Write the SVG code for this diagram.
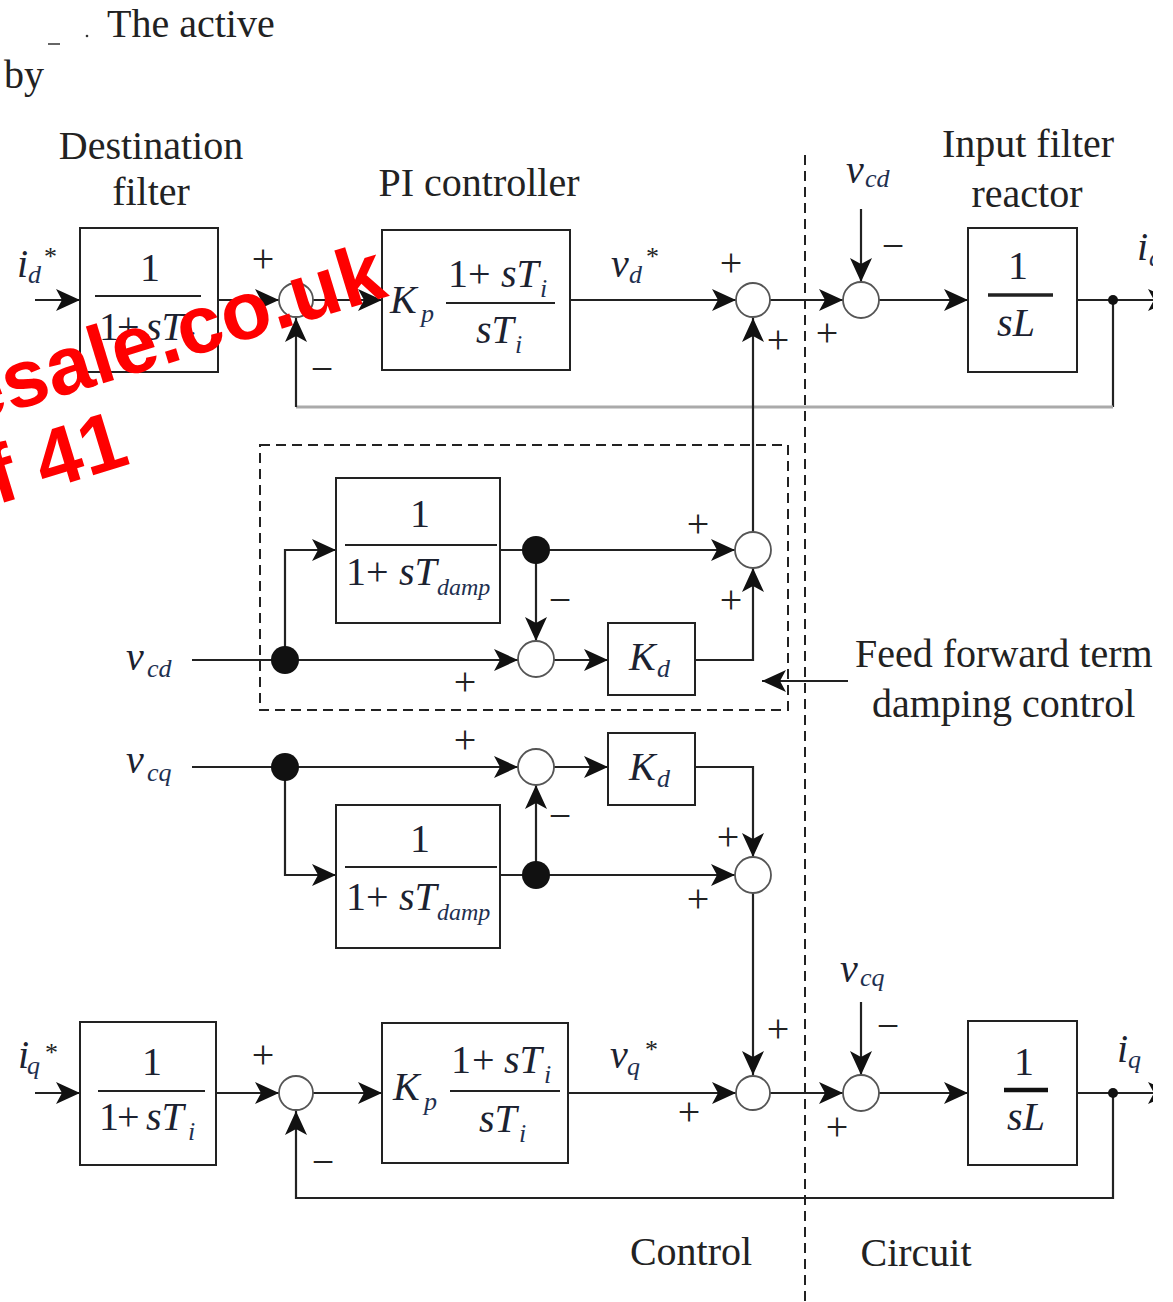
<svg xmlns="http://www.w3.org/2000/svg" width="1173" height="1302" viewBox="0 0 1173 1302">
<style>
.lbl{font-family:"Liberation Serif","Times New Roman",serif;font-size:40px;fill:#222}
.m{font-family:"Liberation Serif","Times New Roman",serif;font-size:40px;fill:#1c2230}
.i{font-style:italic}
.sub{font-family:"Liberation Serif","Times New Roman",serif;font-size:26px;font-style:italic;fill:#1e3050}
.dsub{font-family:"Liberation Serif","Times New Roman",serif;font-size:24px;font-style:italic;fill:#1e3050}
.star{font-family:"Liberation Serif","Times New Roman",serif;font-size:26px;fill:#222}
.sg{font-family:"Liberation Serif","Times New Roman",serif;font-size:40px;fill:#222;text-anchor:middle}
.box{fill:none;stroke:#222;stroke-width:2}
.frac{stroke:#222;stroke-width:2}
.sum{fill:#fff;stroke:#555;stroke-width:1.8}
.dot{fill:#111}
.ln{fill:none;stroke:#222;stroke-width:2.2}
.grey{fill:none;stroke:#aaa;stroke-width:3}
.dash{fill:none;stroke:#222;stroke-width:2;stroke-dasharray:10,6}
.wm{font-family:"Liberation Sans",Arial,sans-serif;font-weight:bold;font-size:82px;fill:#ff0000}
</style>
<defs>
<marker id="ah" markerWidth="24" markerHeight="22" refX="24" refY="11" orient="auto" markerUnits="userSpaceOnUse">
<path d="M0,0 L24,11 L0,22 L6,11 z" fill="#111"/>
</marker>
<clipPath id="cp"><rect x="0" y="0" width="1153" height="1302"/></clipPath>
</defs>
<rect width="1173" height="1302" fill="#fff"/>

<g clip-path="url(#cp)">
<g id="header">
<text class="lbl" x="107" y="37">The active</text>
<text class="lbl" x="4" y="88">by</text>
<line x1="48" y1="44" x2="60" y2="44" stroke="#333" stroke-width="1.5"/>
<circle cx="87" cy="36" r="1.3" fill="#333"/>
</g>

<g id="titles">
<text class="lbl" x="151" y="159" text-anchor="middle">Destination</text>
<text class="lbl" x="151" y="205" text-anchor="middle">filter</text>
<text class="lbl" x="479" y="196" text-anchor="middle">PI controller</text>
<text class="lbl" x="1028" y="157" text-anchor="middle">Input filter</text>
<text class="lbl" x="1027" y="207" text-anchor="middle">reactor</text>
<text class="lbl" x="855" y="667">Feed forward term</text>
<text class="lbl" x="872" y="717">damping control</text>
<text class="lbl" x="691" y="1265" text-anchor="middle">Control</text>
<text class="lbl" x="916" y="1266" text-anchor="middle">Circuit</text>
</g>

<g id="boundaries">
<path class="dash" d="M805,155 V1302"/>
<rect class="dash" x="260" y="445" width="528" height="265"/>
</g>

<g id="connectors">
<path class="ln" d="M35,300 H80" marker-end="url(#ah)"/>
<path class="ln" d="M218,300 H279" marker-end="url(#ah)"/>
<path class="ln" d="M313,300 H382" marker-end="url(#ah)"/>
<path class="ln" d="M570,300 H736" marker-end="url(#ah)"/>
<path class="ln" d="M770,300 H843" marker-end="url(#ah)"/>
<path class="ln" d="M879,300 H968" marker-end="url(#ah)"/>
<path class="ln" d="M1077,300 H1172" marker-end="url(#ah)"/>
<path class="ln" d="M861,209 V282" marker-end="url(#ah)"/>
<path class="ln" d="M1113,300 V407"/>
<path class="grey" d="M1113,407 H296"/>
<path class="ln" d="M296,407 V318" marker-end="url(#ah)"/>
<path class="ln" d="M753,532 V318" marker-end="url(#ah)"/>

<path class="ln" d="M192,660 H518" marker-end="url(#ah)"/>
<path class="ln" d="M285,660 V550 H336" marker-end="url(#ah)"/>
<path class="ln" d="M500,550 H735" marker-end="url(#ah)"/>
<path class="ln" d="M536,550 V641" marker-end="url(#ah)"/>
<path class="ln" d="M554,660 H608" marker-end="url(#ah)"/>
<path class="ln" d="M695,660 H753 V568" marker-end="url(#ah)"/>
<path class="ln" d="M848,681 H762" marker-end="url(#ah)" stroke-width="3"/>

<path class="ln" d="M192,767 H518" marker-end="url(#ah)"/>
<path class="ln" d="M285,767 V875 H336" marker-end="url(#ah)"/>
<path class="ln" d="M500,875 H735" marker-end="url(#ah)"/>
<path class="ln" d="M536,875 V785" marker-end="url(#ah)"/>
<path class="ln" d="M554,767 H608" marker-end="url(#ah)"/>
<path class="ln" d="M695,767 H753 V857" marker-end="url(#ah)"/>
<path class="ln" d="M753,893 V1075" marker-end="url(#ah)"/>

<path class="ln" d="M35,1093 H80" marker-end="url(#ah)"/>
<path class="ln" d="M216,1093 H279" marker-end="url(#ah)"/>
<path class="ln" d="M313,1093 H382" marker-end="url(#ah)"/>
<path class="ln" d="M568,1093 H736" marker-end="url(#ah)"/>
<path class="ln" d="M770,1093 H843" marker-end="url(#ah)"/>
<path class="ln" d="M861,1002 V1075" marker-end="url(#ah)"/>
<path class="ln" d="M879,1093 H968" marker-end="url(#ah)"/>
<path class="ln" d="M1077,1093 H1172" marker-end="url(#ah)"/>
<path class="ln" d="M1113,1093 V1198 H296 V1111" marker-end="url(#ah)"/>
</g>

<g id="signals">
<text class="m i" x="17" y="277">i</text><text class="sub" x="28" y="283">d</text><text class="star" x="44" y="265">*</text>
<text class="m i" x="611" y="277">v</text><text class="sub" x="629" y="283">d</text><text class="star" x="646" y="265">*</text>
<text class="m i" x="846" y="183">v</text><text class="sub" x="865" y="187">cd</text>
<text class="m i" x="1137" y="260">i</text><text class="sub" x="1149" y="266">d</text>
<text class="m i" x="126" y="670" font-size="44">v</text><text class="sub" x="147" y="677">cd</text>
<text class="m i" x="126" y="773" font-size="44">v</text><text class="sub" x="147" y="781">cq</text>
<text class="m i" x="18" y="1068">i</text><text class="sub" x="27" y="1074">q</text><text class="star" x="45" y="1061">*</text>
<text class="m i" x="610" y="1068">v</text><text class="sub" x="627" y="1075">q</text><text class="star" x="645" y="1058">*</text>
<text class="m i" x="840" y="982">v</text><text class="sub" x="860" y="986">cq</text>
<text class="m i" x="1117" y="1062">i</text><text class="sub" x="1128" y="1068">q</text>
</g>

<g id="signs">
<text class="sg" x="263" y="272">+</text>
<text class="sg" x="322" y="382">−</text>
<text class="sg" x="731" y="276">+</text>
<text class="sg" x="778" y="353">+</text>
<text class="sg" x="827" y="346">+</text>
<text class="sg" x="893" y="259">−</text>
<text class="sg" x="698" y="537">+</text>
<text class="sg" x="560" y="613">−</text>
<text class="sg" x="731" y="613">+</text>
<text class="sg" x="465" y="695">+</text>
<text class="sg" x="465" y="753">+</text>
<text class="sg" x="560" y="829">−</text>
<text class="sg" x="728" y="850">+</text>
<text class="sg" x="698" y="912">+</text>
<text class="sg" x="778" y="1042">+</text>
<text class="sg" x="263" y="1068">+</text>
<text class="sg" x="323" y="1175">−</text>
<text class="sg" x="689" y="1125">+</text>
<text class="sg" x="837" y="1140">+</text>
<text class="sg" x="888" y="1039">−</text>
</g>

<g id="dest-filter-d">
<rect class="box" x="80" y="228" width="138" height="144"/>
<text class="m" x="150" y="281" text-anchor="middle">1</text>
<line class="frac" x1="95" y1="296" x2="201" y2="296"/>
<text class="m" x="99" y="340">1</text><text class="m" x="117" y="340">+</text><text class="m i" x="146" y="340">sT</text>
<text class="sub" x="188" y="349">i</text>
</g>

<g id="sum-d1"><circle class="sum" cx="296" cy="300" r="17"/></g>

<g id="pi-d">
<rect class="box" x="382" y="230" width="188" height="140"/>
<text class="m i" x="390" y="313">K</text><text class="sub" x="421" y="322">p</text>
<line class="frac" x1="446" y1="303" x2="555" y2="303"/>
<text class="m" x="448" y="287">1</text><text class="m" x="468" y="287">+</text><text class="m i" x="501" y="287">sT</text>
<text class="sub" x="540" y="297">i</text>
<text class="m i" x="476" y="343">sT</text>
<text class="sub" x="515" y="353">i</text>
</g>

<g id="sum-d2"><circle class="sum" cx="753" cy="300" r="17"/></g>
<g id="sum-d3"><circle class="sum" cx="861" cy="300" r="18"/></g>

<g id="reactor-d">
<rect class="box" x="968" y="228" width="109" height="144"/>
<text class="m" x="1018" y="279" text-anchor="middle">1</text>
<line x1="988" y1="295" x2="1053" y2="295" stroke="#222" stroke-width="3.5"/>
<text class="m i" x="1016" y="336" text-anchor="middle">sL</text>
</g>
<g id="node-id"><circle class="dot" cx="1113" cy="300" r="5"/></g>

<g id="damp-filter-d">
<rect class="box" x="336" y="478" width="164" height="145"/>
<text class="m" x="420" y="527" text-anchor="middle">1</text>
<line class="frac" x1="345" y1="545" x2="497" y2="545"/>
<text class="m" x="346" y="585">1</text><text class="m" x="366" y="585">+</text><text class="m i" x="399" y="585">sT</text>
<text class="dsub" x="437" y="595">damp</text>
</g>
<g id="jn-vcd"><circle class="dot" cx="285" cy="660" r="14"/></g>
<g id="jn-fd"><circle class="dot" cx="536" cy="550" r="14"/></g>
<g id="sum-dd1"><circle class="sum" cx="536" cy="659" r="18"/></g>
<g id="kd-d">
<rect class="box" x="608" y="623" width="87" height="72"/>
<text class="m i" x="629" y="670">K</text><text class="sub" x="657" y="677">d</text>
</g>
<g id="sum-dd2"><circle class="sum" cx="753" cy="550" r="18"/></g>

<g id="jn-vcq"><circle class="dot" cx="285" cy="767" r="14"/></g>
<g id="sum-qd1"><circle class="sum" cx="536" cy="767" r="18"/></g>
<g id="kd-q">
<rect class="box" x="608" y="733" width="87" height="72"/>
<text class="m i" x="629" y="780">K</text><text class="sub" x="657" y="787">d</text>
</g>
<g id="damp-filter-q">
<rect class="box" x="336" y="805" width="164" height="143"/>
<text class="m" x="420" y="852" text-anchor="middle">1</text>
<line class="frac" x1="345" y1="867" x2="497" y2="867"/>
<text class="m" x="346" y="910">1</text><text class="m" x="366" y="910">+</text><text class="m i" x="399" y="910">sT</text>
<text class="dsub" x="437" y="920">damp</text>
</g>
<g id="jn-fq"><circle class="dot" cx="536" cy="875" r="14"/></g>
<g id="sum-qd2"><circle class="sum" cx="753" cy="875" r="18"/></g>

<g id="dest-filter-q">
<rect class="box" x="80" y="1022" width="136" height="143"/>
<text class="m" x="152" y="1075" text-anchor="middle">1</text>
<line class="frac" x1="98" y1="1091" x2="205" y2="1091"/>
<text class="m" x="99" y="1130">1</text><text class="m" x="117" y="1130">+</text><text class="m i" x="146" y="1130">sT</text>
<text class="sub" x="188" y="1140">i</text>
</g>
<g id="sum-q1"><circle class="sum" cx="296" cy="1093" r="17"/></g>
<g id="pi-q">
<rect class="box" x="382" y="1023" width="186" height="140"/>
<text class="m i" x="393" y="1100">K</text><text class="sub" x="424" y="1110">p</text>
<line class="frac" x1="450" y1="1091" x2="560" y2="1091"/>
<text class="m" x="451" y="1073">1</text><text class="m" x="472" y="1073">+</text><text class="m i" x="504" y="1073">sT</text>
<text class="sub" x="544" y="1083">i</text>
<text class="m i" x="479" y="1132">sT</text>
<text class="sub" x="519" y="1142">i</text>
</g>
<g id="sum-q2"><circle class="sum" cx="753" cy="1093" r="17"/></g>
<g id="sum-q3"><circle class="sum" cx="861" cy="1093" r="18"/></g>
<g id="reactor-q">
<rect class="box" x="968" y="1021" width="109" height="144"/>
<text class="m" x="1024" y="1075" text-anchor="middle">1</text>
<line x1="1004" y1="1090" x2="1048" y2="1090" stroke="#111" stroke-width="4.5"/>
<text class="m i" x="1026" y="1130" text-anchor="middle">sL</text>
</g>
<g id="node-iq"><circle class="dot" cx="1113" cy="1093" r="5"/></g>

<g id="watermark" transform="translate(-33,425) rotate(-17)">
<text class="wm" x="0" y="0">esale.co.uk</text>
<text class="wm" x="5" y="85">f 41</text>
</g>
</g>
</svg>
